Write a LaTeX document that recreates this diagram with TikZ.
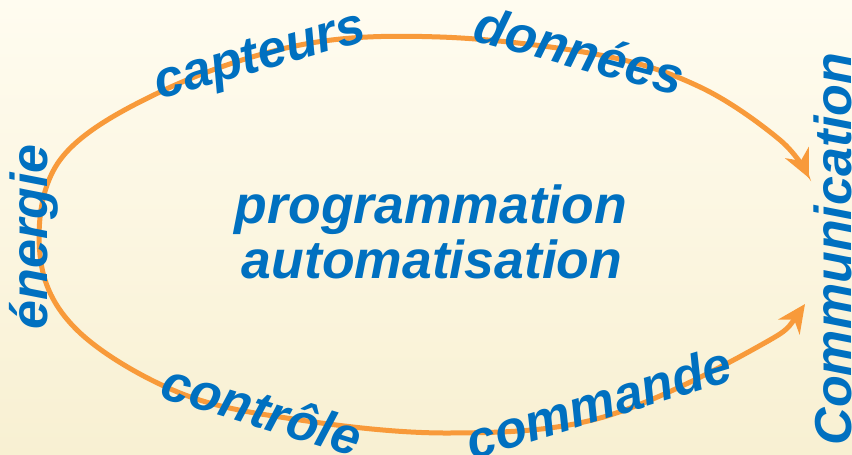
\documentclass[tikz,border=0pt]{standalone}
\usepackage{fontspec}
\setmainfont{Liberation Sans}
\usetikzlibrary{arrows.meta}
\definecolor{bgtop}{RGB}{255,252,240}
\definecolor{bgbot}{RGB}{248,240,210}
\definecolor{txtblue}{RGB}{0,112,192}
\definecolor{arcorange}{RGB}{248,154,58}
\begin{document}
\begin{tikzpicture}[x=1pt,y=-1pt,
  lbl/.style={text=txtblue,font=\fontsize{52}{55}\selectfont\bfseries\itshape,inner sep=0pt,anchor=base},
  centre/.style={lbl,font=\fontsize{53.5}{56}\selectfont\bfseries\itshape},
  cycle/.style={draw=arcorange,line width=5pt,
    {Stealth[length=28pt,width=26pt,inset=9pt]}-{Stealth[length=28pt,width=26pt,inset=9pt]}}]
\useasboundingbox (0,0) rectangle (852,455);
\fill[top color=bgtop,bottom color=bgbot] (0,0) rectangle (852,455);
\coordinate (lowtip) at (805,304);
\coordinate (uptip) at (809,178);
\draw[cycle] plot[smooth,tension=0.6] coordinates {(805,304) (752,350) (600,418) (450,433) (300,420) (180,393) (77,330) (40,255) (60,160) (160,92) (300,45) (440,37) (600,55) (700,87) (780,140) (809,178)};
\node[lbl,rotate=16] (capteurs) at (264,70) {capteurs};
\node[lbl,rotate=-15] (donnees) at (575,68) {données};
\node[lbl,rotate=-17] (controle) at (257,427) {contrôle};
\node[lbl,rotate=17] (commande) at (604,420) {commande};
\node[lbl,rotate=90] (energie) at (47,237) {énergie};
\node[lbl,rotate=90] (comm) at (851,249) {Communication};
\node[centre] (prog) at (431,223) {programmation};
\node[centre] (auto) at (432,278) {automatisation};
\end{tikzpicture}
\end{document}
